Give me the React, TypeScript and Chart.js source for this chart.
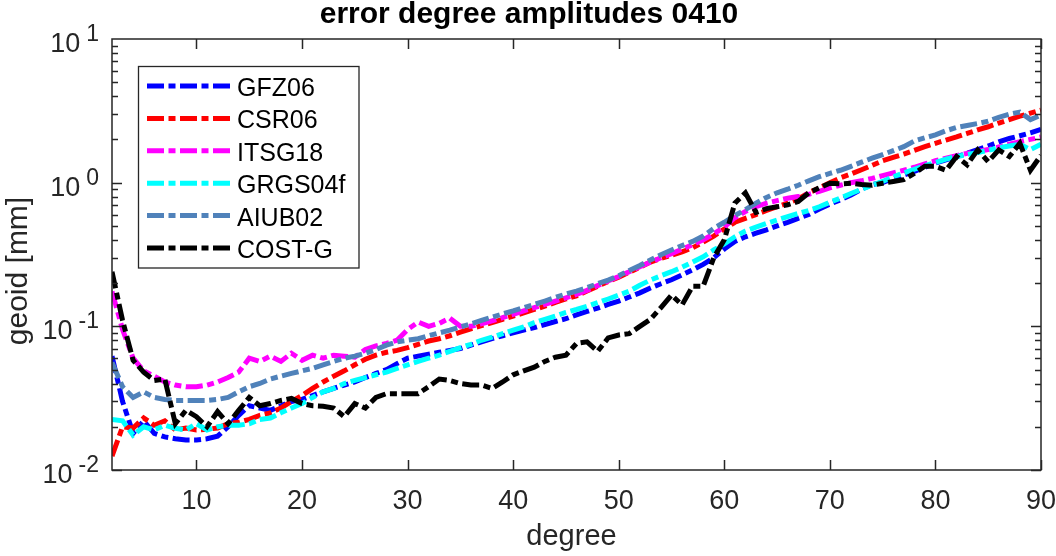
import React, { useEffect, useRef } from 'react';
import { Chart, registerables } from 'chart.js';

Chart.register(...registerables);

// spherical harmonic degrees 2..90
const degrees: number[] = Array.from({ length: 89 }, (_, i) => i + 2);

const GFZ06 = [
  0.062, 0.030, 0.018, 0.022, 0.018, 0.017, 0.0165, 0.0162, 0.0162, 0.0165,
  0.0172, 0.020, 0.024, 0.028, 0.027, 0.026, 0.028, 0.030, 0.031, 0.033,
  0.035, 0.037, 0.039, 0.041, 0.044, 0.047, 0.050, 0.055, 0.060, 0.062,
  0.064, 0.066, 0.068, 0.070, 0.074, 0.078, 0.082, 0.086, 0.090, 0.094,
  0.098, 0.103, 0.108, 0.113, 0.120, 0.127, 0.134, 0.142, 0.150, 0.160,
  0.171, 0.185, 0.198, 0.211, 0.228, 0.247, 0.270, 0.300, 0.345, 0.39,
  0.42, 0.445, 0.47, 0.50, 0.53, 0.565, 0.60, 0.655, 0.71, 0.76,
  0.82, 0.90, 0.97, 1.0, 1.07, 1.13, 1.2, 1.28, 1.37, 1.44,
  1.52, 1.60, 1.70, 1.80, 1.92, 2.03, 2.12, 2.22, 2.35,
];

const CSR06 = [
  0.0125, 0.020, 0.0196, 0.023, 0.0205, 0.022, 0.019, 0.0196, 0.019, 0.0192,
  0.0196, 0.021, 0.0215, 0.0225, 0.024, 0.025, 0.027, 0.030, 0.033, 0.037,
  0.041, 0.045, 0.049, 0.054, 0.059, 0.063, 0.066, 0.068, 0.071, 0.075,
  0.079, 0.082, 0.086, 0.091, 0.096, 0.101, 0.106, 0.112, 0.118, 0.124,
  0.131, 0.138, 0.147, 0.155, 0.163, 0.176, 0.19, 0.205, 0.22, 0.238,
  0.258, 0.28, 0.297, 0.313, 0.33, 0.352, 0.385, 0.425, 0.475, 0.53,
  0.565, 0.60, 0.64, 0.68, 0.72, 0.77, 0.85, 0.92, 1.0, 1.08,
  1.15, 1.23, 1.32, 1.42, 1.50, 1.58, 1.68, 1.78, 1.88, 1.98,
  2.08, 2.20, 2.33, 2.45, 2.6, 2.75, 2.9, 3.05, 3.2,
];

const ITSG18 = [
  0.175, 0.095, 0.060, 0.049, 0.045, 0.041, 0.039, 0.038, 0.038, 0.039,
  0.041, 0.044, 0.048, 0.060, 0.057, 0.062, 0.057, 0.065, 0.058, 0.063,
  0.060, 0.063, 0.062, 0.061, 0.069, 0.073, 0.076, 0.080, 0.095, 0.107,
  0.100, 0.105, 0.114, 0.100, 0.100, 0.104, 0.109, 0.115, 0.121, 0.128,
  0.135, 0.142, 0.150, 0.158, 0.167, 0.178, 0.192, 0.207, 0.222, 0.24,
  0.26, 0.28, 0.30, 0.32, 0.345, 0.37, 0.40, 0.44, 0.49, 0.57,
  0.63, 0.68, 0.72, 0.75, 0.78, 0.80, 0.83, 0.87, 0.92, 0.96,
  1.00, 1.03, 1.07, 1.12, 1.17, 1.22, 1.28, 1.35, 1.42, 1.48,
  1.54, 1.60, 1.65, 1.70, 1.77, 1.85, 1.93, 2.00, 2.08,
];

const GRGS04f = [
  0.0225, 0.022, 0.0175, 0.020, 0.019, 0.0205, 0.0195, 0.019, 0.021, 0.019,
  0.020, 0.0205, 0.0205, 0.021, 0.0225, 0.023, 0.025, 0.027, 0.029, 0.032,
  0.035, 0.037, 0.040, 0.042, 0.044, 0.046, 0.048, 0.051, 0.054, 0.057,
  0.060, 0.063, 0.067, 0.071, 0.075, 0.080, 0.084, 0.089, 0.094, 0.099,
  0.106, 0.112, 0.118, 0.125, 0.131, 0.138, 0.146, 0.155, 0.165, 0.176,
  0.193, 0.21, 0.225, 0.24, 0.258, 0.28, 0.305, 0.34, 0.375, 0.42,
  0.46, 0.49, 0.52, 0.55, 0.58, 0.61, 0.64, 0.68, 0.73, 0.78,
  0.84, 0.90, 0.96, 1.02, 1.10, 1.17, 1.24, 1.31, 1.38, 1.46,
  1.52, 1.57, 1.62, 1.68, 1.75, 1.80, 1.85, 1.70, 1.85,
];

const AIUB02 = [
  0.056, 0.038, 0.032, 0.035, 0.032, 0.031, 0.0305, 0.0305, 0.0305, 0.0305,
  0.031, 0.032, 0.035, 0.038, 0.040, 0.043, 0.045, 0.047, 0.049, 0.051,
  0.054, 0.057, 0.060, 0.062, 0.065, 0.069, 0.074, 0.078, 0.080, 0.082,
  0.086, 0.090, 0.094, 0.099, 0.104, 0.110, 0.116, 0.122, 0.128, 0.135,
  0.142, 0.150, 0.159, 0.168, 0.176, 0.186, 0.198, 0.21, 0.225, 0.245,
  0.265, 0.29, 0.315, 0.34, 0.365, 0.39, 0.425, 0.48, 0.53, 0.59,
  0.65, 0.72, 0.79, 0.85, 0.90, 0.96, 1.03, 1.10, 1.16, 1.22,
  1.30, 1.39, 1.48, 1.57, 1.67, 1.78, 1.95, 2.05, 2.15, 2.30,
  2.42, 2.50, 2.58, 2.68, 2.85, 3.0, 3.1, 2.75, 2.95,
];

const COSTG = [
  0.24, 0.11, 0.058, 0.048, 0.042, 0.043, 0.021, 0.026, 0.0235, 0.020,
  0.0255, 0.021, 0.026, 0.032, 0.028, 0.029, 0.0305, 0.0315, 0.029, 0.028,
  0.0278, 0.027, 0.0235, 0.029, 0.027, 0.032, 0.034, 0.034, 0.034, 0.034,
  0.038, 0.043, 0.042, 0.040, 0.039, 0.039, 0.037, 0.041, 0.046, 0.049,
  0.052, 0.057, 0.061, 0.063, 0.076, 0.078, 0.067, 0.083, 0.087, 0.089,
  0.100, 0.112, 0.135, 0.165, 0.141, 0.19, 0.19, 0.30, 0.40, 0.72,
  0.85, 0.62, 0.66, 0.68, 0.70, 0.74, 0.85, 0.92, 0.99, 0.98,
  0.99, 0.97, 0.96, 0.99, 1.02, 1.05, 1.16, 1.30, 1.30, 1.22,
  1.52, 1.33, 1.69, 1.40, 1.69, 1.52, 1.88, 1.22, 1.55,
];

const seriesNames = ['GFZ06', 'CSR06', 'ITSG18', 'GRGS04f', 'AIUB02', 'COST-G'];
const seriesValues = [GFZ06, CSR06, ITSG18, GRGS04f, AIUB02, COSTG];
const seriesColors = ['#0000ff', '#ff0000', '#ff00ff', '#00ffff', '#5082ba', '#000000'];

const xTicks = [10, 20, 30, 40, 50, 60, 70, 80, 90];
const yExponents = [-2, -1, 0, 1];

const titleText = 'error degree amplitudes 0410';
const xLabel = 'degree';
const yLabel = 'geoid [mm]';

const FONT = '"Liberation Sans", Arial, Helvetica, sans-serif';
const AXC = '#262626';
const DASH = [17, 4.5, 7, 4.5];
const LW = 5;

const matlabPlugin = {
  id: 'matlabAxes',
  afterDatasetsDraw(chart: any) {
    const ctx: CanvasRenderingContext2D = chart.ctx;
    const { left, right, top, bottom } = chart.chartArea;
    const xs = chart.scales.x;
    const ys = chart.scales.y;
    ctx.save();

    // axes box
    ctx.strokeStyle = AXC;
    ctx.lineWidth = 1.5;
    ctx.setLineDash([]);
    ctx.strokeRect(left, top, right - left, bottom - top);

    // ticks
    ctx.beginPath();
    xTicks.forEach((v) => {
      const px = Math.round(xs.getPixelForValue(v)) + 0.5;
      ctx.moveTo(px, bottom);
      ctx.lineTo(px, bottom - 10);
      ctx.moveTo(px, top);
      ctx.lineTo(px, top + 10);
    });
    for (let e = -2; e <= 0; e++) {
      for (let m = 1; m <= 9; m++) {
        const v = m * Math.pow(10, e);
        const py = Math.round(ys.getPixelForValue(v)) + 0.5;
        const len = m === 1 ? 10 : 6;
        ctx.moveTo(left, py);
        ctx.lineTo(left + len, py);
        ctx.moveTo(right, py);
        ctx.lineTo(right - len, py);
      }
    }
    ctx.stroke();

    // x tick labels
    ctx.fillStyle = AXC;
    ctx.font = `27px ${FONT}`;
    ctx.textAlign = 'center';
    ctx.textBaseline = 'alphabetic';
    xTicks.forEach((v) => {
      ctx.fillText(String(v), xs.getPixelForValue(v), bottom + 39);
    });

    // y tick labels 10^e
    yExponents.forEach((e) => {
      const py = ys.getPixelForValue(Math.pow(10, e));
      const expStr = e < 0 ? '-' + Math.abs(e) : String(e);
      ctx.font = `23px ${FONT}`;
      ctx.textAlign = 'right';
      const expRight = left - 13;
      const expW = ctx.measureText(expStr).width;
      ctx.fillText(expStr, expRight, py + 2);
      ctx.font = `27px ${FONT}`;
      ctx.fillText('10', expRight - expW - 6, py + 13);
    });

    // x label
    ctx.font = `29px ${FONT}`;
    ctx.textAlign = 'center';
    ctx.fillText(xLabel, (left + right) / 2 - 5, bottom + 75);

    // y label
    ctx.save();
    ctx.translate(27, 271);
    ctx.rotate(-Math.PI / 2);
    ctx.textAlign = 'center';
    ctx.font = `30px ${FONT}`;
    ctx.fillText(yLabel, 0, 0);
    ctx.restore();

    // title
    ctx.fillStyle = '#000000';
    ctx.font = `bold 30px ${FONT}`;
    ctx.textAlign = 'center';
    ctx.fillText(titleText, 529, 23);

    // legend
    const lx = 138.5, ly = 66.5, lw = 220.5, lh = 201.5;
    ctx.fillStyle = '#ffffff';
    ctx.fillRect(lx, ly, lw, lh);
    ctx.strokeStyle = AXC;
    ctx.lineWidth = 1.3;
    ctx.strokeRect(lx, ly, lw, lh);
    chart.data.datasets.forEach((ds: any, i: number) => {
      const cy = 86 + 32.4 * i;
      ctx.strokeStyle = ds.borderColor;
      ctx.lineWidth = LW;
      ctx.lineCap = 'butt';
      ctx.setLineDash(DASH);
      ctx.beginPath();
      ctx.moveTo(147, cy);
      ctx.lineTo(231, cy);
      ctx.stroke();
      ctx.setLineDash([]);
      ctx.fillStyle = '#000000';
      ctx.font = `25px ${FONT}`;
      ctx.textAlign = 'left';
      ctx.fillText(ds.label, 237, cy + 10);
    });

    ctx.restore();
  },
};

export default function App() {
  const canvasRef = useRef<HTMLCanvasElement | null>(null);

  useEffect(() => {
    const canvas = canvasRef.current;
    if (!canvas) return;
    const chart = new Chart(canvas, {
      type: 'line',
      data: {
        datasets: seriesNames.map((name, i) => ({
          label: name,
          data: degrees.map((d, j) => ({ x: d, y: seriesValues[i][j] })),
          borderColor: seriesColors[i],
          backgroundColor: seriesColors[i],
          borderWidth: LW,
          borderDash: DASH,
          borderCapStyle: 'butt',
          borderJoinStyle: 'miter',
          pointRadius: 0,
          tension: 0,
          fill: false,
          order: seriesNames.length - 1 - i,
        })),
      },
      options: {
        responsive: false,
        animation: false,
        devicePixelRatio: 1,
        events: [],
        layout: { padding: { left: 112, right: 15, top: 39, bottom: 86 } },
        plugins: {
          legend: { display: false },
          title: { display: false },
          tooltip: { enabled: false },
        },
        scales: {
          x: { type: 'linear', min: 2, max: 90, display: false },
          y: { type: 'logarithmic', min: 0.01, max: 10, display: false },
        },
      },
      plugins: [matlabPlugin],
    } as any);
    return () => chart.destroy();
  }, []);

  return (
    <div style={{ position: 'absolute', left: 0, top: 0, width: 1056, height: 556, background: '#ffffff' }}>
      <canvas ref={canvasRef} width={1056} height={556} style={{ display: 'block' }} />
    </div>
  );
}
